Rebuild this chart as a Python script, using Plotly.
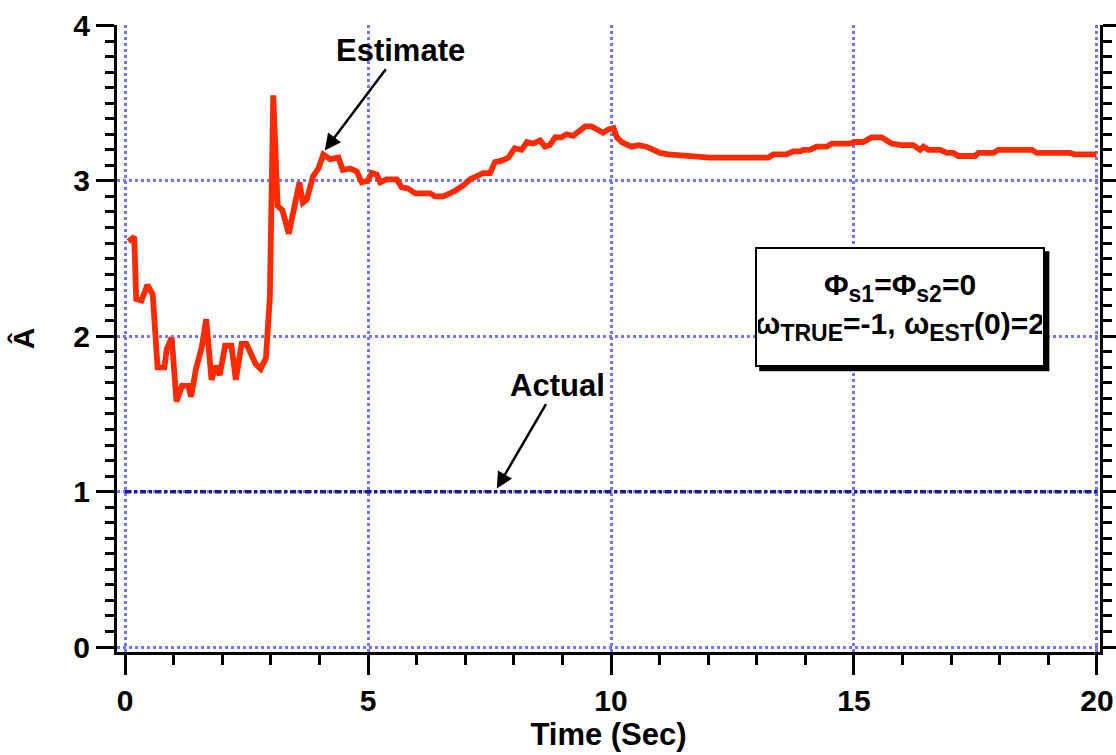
import plotly.graph_objects as go

# Estimate of A over time
t_est = [0.07, 0.19, 0.23, 0.34, 0.46, 0.57, 0.67, 0.81, 0.86, 0.96, 1.06, 1.17, 1.30, 1.36,
         1.46, 1.58, 1.67, 1.78, 1.87, 1.95, 2.06, 2.19, 2.28, 2.40, 2.50, 2.61, 2.69, 2.79,
         2.90, 2.98, 3.05, 3.14, 3.24, 3.37, 3.50, 3.59, 3.66, 3.74, 3.87, 3.98, 4.08, 4.22,
         4.39, 4.48, 4.63, 4.77, 4.87, 4.99, 5.08, 5.18, 5.25, 5.38, 5.59, 5.69, 5.83, 5.97,
         6.28, 6.38, 6.55, 6.76, 6.96, 7.10, 7.24, 7.37, 7.51, 7.61, 7.75, 7.89, 8.02, 8.16,
         8.27, 8.40, 8.54, 8.64, 8.74, 8.85, 8.98, 9.09, 9.22, 9.47, 9.60, 9.71, 9.84, 9.94,
         10.05, 10.12, 10.22, 10.42, 10.56, 10.73, 10.87, 11.01, 11.18, 11.93, 12.04, 13.24,
         13.34, 13.61, 13.75, 13.89, 13.96, 14.09, 14.23, 14.44, 14.54, 14.92, 15.02, 15.19,
         15.36, 15.57, 15.67, 15.77, 15.98, 16.22, 16.36, 16.43, 16.53, 16.77, 16.91, 17.04,
         17.15, 17.49, 17.56, 17.87, 17.97, 18.66, 18.76, 19.44, 19.55, 19.99]
a_est = [2.61, 2.64, 2.24, 2.23, 2.33, 2.27, 1.80, 1.80, 1.92, 1.99, 1.58, 1.68, 1.68, 1.61,
         1.79, 1.93, 2.11, 1.72, 1.81, 1.75, 1.94, 1.94, 1.72, 1.95, 1.95, 1.88, 1.82, 1.79,
         1.86, 2.25, 3.55, 2.84, 2.81, 2.66, 2.87, 2.99, 2.86, 2.88, 3.03, 3.08, 3.17, 3.14,
         3.15, 3.07, 3.08, 3.06, 2.99, 3.00, 3.05, 3.04, 2.99, 3.01, 3.01, 2.96, 2.95, 2.92,
         2.92, 2.90, 2.90, 2.93, 2.97, 3.01, 3.03, 3.05, 3.05, 3.12, 3.13, 3.15, 3.21, 3.20,
         3.25, 3.24, 3.26, 3.22, 3.23, 3.28, 3.28, 3.30, 3.29, 3.35, 3.35, 3.33, 3.31, 3.33,
         3.34, 3.28, 3.25, 3.22, 3.23, 3.22, 3.20, 3.18, 3.17, 3.16, 3.15, 3.15,
         3.17, 3.17, 3.19, 3.19, 3.20, 3.20, 3.22, 3.22, 3.24, 3.24, 3.25, 3.25,
         3.28, 3.28, 3.26, 3.24, 3.23, 3.23, 3.20, 3.22, 3.20, 3.20, 3.18, 3.18,
         3.16, 3.16, 3.18, 3.18, 3.20, 3.20, 3.18, 3.18, 3.17, 3.17]

# Actual value of A
t_act = [0, 20]
a_act = [1, 1]

x_ticks = [0, 5, 10, 15, 20]
x_ticktext = ["0", "5", "10", "15", "20"]
y_ticks = [0, 1, 2, 3, 4]
y_ticktext = ["0", "1", "2", "3", "4"]
y_half_ticks = [0.5, 1.5, 2.5, 3.5]

FONT = "Liberation Sans, Arial, Helvetica, sans-serif"
GRID = "#7474ff"

fig = go.Figure()
fig.add_trace(go.Scatter(x=t_act, y=a_act, mode="lines",
                         line=dict(color="#1a1aa0", width=3.5, dash="6px,3px,3px,3px"),
                         showlegend=False, hoverinfo="skip"))
fig.add_trace(go.Scatter(x=t_est, y=a_est, mode="lines",
                         line=dict(color="#ff2a00", width=5.8),
                         showlegend=False))

fig.update_layout(
    width=1116, height=755,
    margin=dict(l=117, r=16, t=25, b=103),
    paper_bgcolor="white", plot_bgcolor="white",
    font=dict(family=FONT, size=30, color="black", weight="bold"),
    xaxis=dict(
        range=[-0.165, 20.062], tickvals=x_ticks, ticktext=x_ticktext,
        showline=True, linecolor="black", linewidth=3, mirror=False,
        ticks="outside", ticklen=20, tickwidth=3, tickcolor="black",
        minor=dict(dtick=1, ticks="outside", ticklen=10, tickwidth=3, tickcolor="black", showgrid=False),
        showgrid=True, gridcolor=GRID, gridwidth=2.5, griddash="dot",
        zeroline=False, automargin=False,
        tickfont=dict(family=FONT, size=30, weight="bold"),
        title=dict(text="Time (Sec)", font=dict(family=FONT, size=31, weight="bold"), standoff=8),
    ),
    yaxis=dict(
        range=[-0.032, 4.003], tickvals=y_ticks, ticktext=y_ticktext,
        showline=True, linecolor="black", linewidth=3, mirror="ticks",
        ticks="outside", ticklen=18, tickwidth=3, tickcolor="black",
        minor=dict(dtick=0.1, ticks="outside", ticklen=9, tickwidth=3, tickcolor="black", showgrid=False),
        showgrid=True, gridcolor=GRID, gridwidth=2.5, griddash="dot",
        zeroline=False, automargin=False,
        tickfont=dict(family=FONT, size=30, weight="bold"),
        title=dict(text="Â", font=dict(family=FONT, size=30, weight="bold"), standoff=30),
    ),
    yaxis2=dict(
        overlaying="y", matches="y", side="left", anchor="x",
        tickvals=y_half_ticks, showticklabels=False,
        ticks="outside", ticklen=18, tickwidth=3, tickcolor="black",
        mirror="ticks", showline=False, showgrid=False, zeroline=False, automargin=False,
    ),
)

# shadow of info box
fig.add_shape(type="rect", xref="x", yref="y", x0=13.05, x1=19.02, y0=1.775, y1=2.547,
              fillcolor="black", line=dict(width=0), layer="above")

SUB = '<sub><span style="font-size:23px">{}</span></sub>'
fig.add_annotation(
    x=15.95, y=2.187, xref="x", yref="y", showarrow=False,
    text=("Φ" + SUB.format("s1") + "=Φ" + SUB.format("s2") + "=0<br>"
          "ω" + SUB.format("TRUE") + "=-1, ω" + SUB.format("EST") + "(0)=2"),
    font=dict(family=FONT, size=30, weight="bold", color="black"),
    bgcolor="white", bordercolor="black", borderwidth=2, borderpad=1,
    width=284, height=114, align="center",
)

fig.add_annotation(
    x=4.11, y=3.196, xref="x", yref="y", ax=5.66, ay=3.84, axref="x", ayref="y",
    text="Estimate", showarrow=True, arrowhead=2, arrowsize=1.3, arrowwidth=2.5,
    arrowcolor="black", font=dict(family=FONT, size=31, weight="bold"),
)
fig.add_annotation(
    x=7.65, y=1.02, xref="x", yref="y", ax=8.89, ay=1.685, axref="x", ayref="y",
    text="Actual", showarrow=True, arrowhead=2, arrowsize=1.3, arrowwidth=2.5,
    arrowcolor="black", font=dict(family=FONT, size=31, weight="bold"),
)

fig.write_html("out.html")
